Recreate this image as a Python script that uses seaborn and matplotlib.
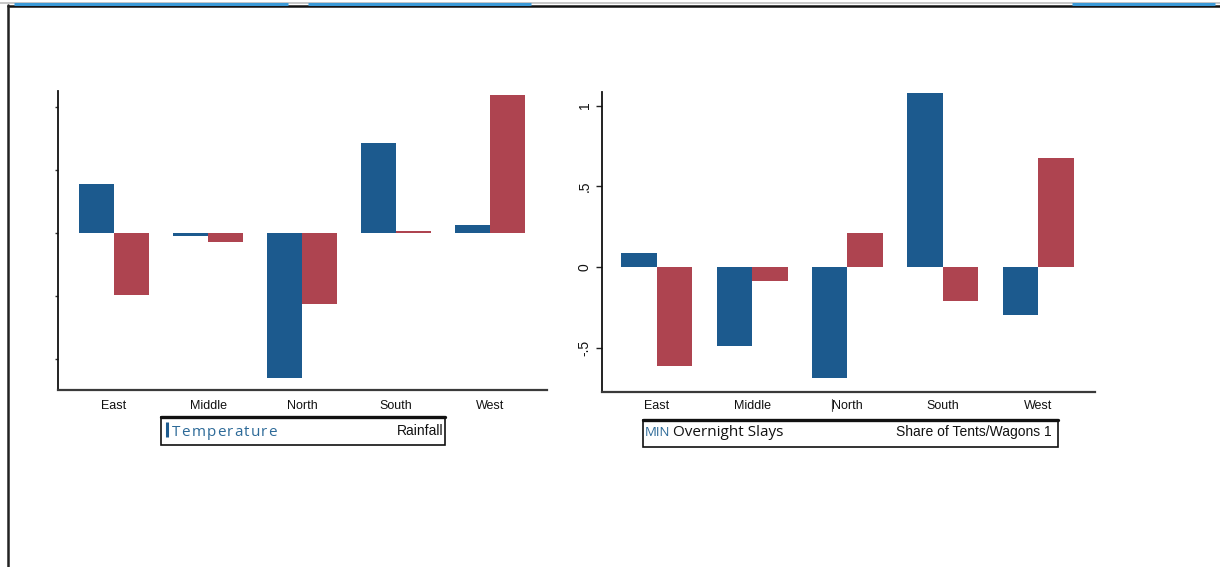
import matplotlib
matplotlib.use("Agg")
import matplotlib.pyplot as plt
from matplotlib.lines import Line2D
from matplotlib.patches import Rectangle
import numpy as np
import pandas as pd
import seaborn as sns

# ---- data -------------------------------------------------------------
regions = ["East", "Middle", "North", "South", "West"]

# left panel (no value labels on its axis)
temperature = [0.78, -0.05, -2.30, 1.43, 0.13]
rainfall = [-0.98, -0.14, -1.13, 0.03, 2.19]
left_ticks = [-2, -1, 0, 1, 2]

# right panel
overnight_stays = [0.087, -0.49, -0.69, 1.08, -0.30]
tent_share = [-0.61, -0.087, 0.21, -0.21, 0.675]
right_ticks = [-0.5, 0, 0.5, 1]
right_tick_labels = ["-.5", "0", ".5", "1"]

left_series = ["Temperature", "Rainfall"]
right_series = ["Overnight Slays", "Share of Tents/Wagons 1"]

BLUE = "#1c5a8e"
RED = "#ae4450"
LEGEND_BLUE = "#2d6a98"

W, H = 1220, 567


def fx(px):
    return px / W


def fy(py):
    return 1 - py / H


def long_frame(series_names, a, b):
    return pd.DataFrame({
        "region": regions * 2,
        "value": list(a) + list(b),
        "series": [series_names[0]] * len(regions) + [series_names[1]] * len(regions),
    })


sns.set_theme(style="white")
plt.rcParams["font.family"] = ["Liberation Sans", "DejaVu Sans"]

fig = plt.figure(figsize=(W / 100, H / 100), dpi=100)
fig.patch.set_facecolor("white")

ax_l = fig.add_axes([fx(58), fy(390), fx(547) - fx(58), fy(91) - fy(390)])
ax_r = fig.add_axes([fx(602), fy(392), fx(1095) - fx(602), fy(92) - fy(392)])

for ax, names, a, b in [
    (ax_l, left_series, temperature, rainfall),
    (ax_r, right_series, overnight_stays, tent_share),
]:
    sns.barplot(
        data=long_frame(names, a, b), x="region", y="value", hue="series",
        order=regions, hue_order=names, palette=[BLUE, RED],
        width=0.745, saturation=1, linewidth=0, legend=False, ax=ax,
    )
    ax.set_xlabel("")
    ax.set_ylabel("")
    ax.set_facecolor("white")
    for side in ["top", "right"]:
        ax.spines[side].set_visible(False)
    ax.spines["left"].set_color("#111111")
    ax.spines["left"].set_linewidth(1.3)
    ax.spines["bottom"].set_color("#3a3a3a")
    ax.spines["bottom"].set_linewidth(1.6)
    ax.tick_params(axis="x", length=0, labelsize=9, colors="#111111")
    ax.grid(False)

# left panel axis
ax_l.set_xlim(-0.596, 4.606)
ax_l.set_ylim(-2.49, 2.25)
ax_l.set_yticks(left_ticks)
ax_l.set_yticklabels([])
ax_l.tick_params(axis="y", left=True, length=2.5, width=1.0, color="#333333")
ax_l.tick_params(axis="x", pad=7)

# right panel axis
ax_r.set_xlim(-0.577, 4.598)
ax_r.set_ylim(-0.774, 1.084)
ax_r.set_yticks(right_ticks)
ax_r.set_yticklabels(right_tick_labels, rotation=90, va="center")
ax_r.tick_params(axis="y", left=True, length=4.5, width=1.0, color="#222222",
                 labelsize=10, pad=3, labelcolor="#111111")
ax_r.tick_params(axis="x", pad=6)

# ---- page frame -------------------------------------------------------
fig.add_artist(Line2D([0, 1], [fy(3), fy(3)], color="#bdbdbd", lw=1.2,
                      transform=fig.transFigure))
fig.add_artist(Line2D([fx(8), 1], [fy(5.5), fy(5.5)], color="#111111", lw=1.8,
                      transform=fig.transFigure))
fig.add_artist(Line2D([fx(8), fx(8)], [fy(5), 0], color="#222222", lw=1.8,
                      transform=fig.transFigure))
for x0, x1 in [(14, 288), (308, 531), (1072, 1215)]:
    fig.add_artist(Line2D([fx(x0), fx(x1)], [fy(4), fy(4)], color="#3b9ad8",
                          lw=2.2, transform=fig.transFigure, solid_capstyle="butt"))

# stray scan mark before a tick label
fig.add_artist(Line2D([fx(832), fx(832)], [fy(399), fy(411)], color="#555555",
                      lw=0.8, transform=fig.transFigure))


# ---- legend boxes -----------------------------------------------------
def legend_box(x0, x1, y0, y1):
    fig.add_artist(Rectangle((fx(x0), fy(y1)), fx(x1) - fx(x0), fy(y0) - fy(y1),
                             fill=False, edgecolor="#111111", lw=1.2,
                             transform=fig.transFigure))
    fig.add_artist(Line2D([fx(x0), fx(x1)], [fy(y0), fy(y0)], color="#111111",
                          lw=2.4, transform=fig.transFigure))


legend_box(161, 445, 417, 445)
legend_box(643, 1058, 420, 447)

fig.add_artist(Line2D([fx(167), fx(167)], [fy(422), fy(437)], color=BLUE, lw=2.2,
                      transform=fig.transFigure, solid_capstyle="butt"))

# letter-spaced series name in the left legend
renderer = fig.canvas.get_renderer()
name = left_series[0]
glyphs = [fig.text(0, fy(432), ch, fontsize=11, family="Open Sans",
                   color=LEGEND_BLUE, ha="left", va="center") for ch in name]
widths = [g.get_window_extent(renderer).width for g in glyphs]
start, span = 172, 105
extra = (span - sum(widths)) / (len(name) - 1)
cur = start
for g, w in zip(glyphs, widths):
    g.set_x(fx(cur))
    cur += w + extra

fig.text(fx(443), fy(431), left_series[1], fontsize=10, color="#111111",
         ha="right", va="center")

# right legend
fig.text(fx(645), fy(432), "MIN", fontsize=9.5, family="Open Sans",
         color=LEGEND_BLUE, ha="left", va="center")
fig.text(fx(673), fy(432), right_series[0], fontsize=11, family="Open Sans",
         color="#111111", ha="left", va="center")
fig.text(fx(1052), fy(432), right_series[1], fontsize=10, color="#111111",
         ha="right", va="center")

fig.savefig("out.png", dpi=100, facecolor="white")
